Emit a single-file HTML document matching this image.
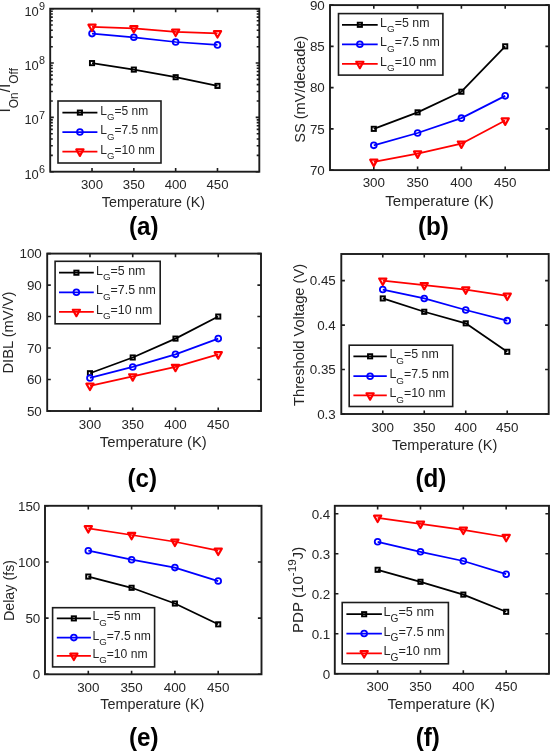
<!DOCTYPE html><html><head><meta charset="utf-8"><style>html,body{margin:0;padding:0;background:#fff;}svg{display:block;will-change:transform;}</style></head><body>
<svg width="550" height="751" viewBox="0 0 550 751" font-family='"Liberation Sans", sans-serif' fill="#262626">
<rect x="50.2" y="8.7" width="209.1" height="163" fill="none" stroke="#1c1c1c" stroke-width="1.9"/>
<path d="M92.02 171.7v-3.6M92.02 8.7v3.6M133.84 171.7v-3.6M133.84 8.7v3.6M175.66 171.7v-3.6M175.66 8.7v3.6M217.48 171.7v-3.6M217.48 8.7v3.6M50.2 171.7h3.6M259.3 171.7h-3.6M50.2 117.37h3.6M259.3 117.37h-3.6M50.2 63.03h3.6M259.3 63.03h-3.6M50.2 8.7h3.6M259.3 8.7h-3.6M50.2 155.34h2.6M259.3 155.34h-2.6M50.2 145.78h2.6M259.3 145.78h-2.6M50.2 138.99h2.6M259.3 138.99h-2.6M50.2 133.72h2.6M259.3 133.72h-2.6M50.2 129.42h2.6M259.3 129.42h-2.6M50.2 125.78h2.6M259.3 125.78h-2.6M50.2 122.63h2.6M259.3 122.63h-2.6M50.2 119.85h2.6M259.3 119.85h-2.6M50.2 101.01h2.6M259.3 101.01h-2.6M50.2 91.44h2.6M259.3 91.44h-2.6M50.2 84.65h2.6M259.3 84.65h-2.6M50.2 79.39h2.6M259.3 79.39h-2.6M50.2 75.09h2.6M259.3 75.09h-2.6M50.2 71.45h2.6M259.3 71.45h-2.6M50.2 68.3h2.6M259.3 68.3h-2.6M50.2 65.52h2.6M259.3 65.52h-2.6M50.2 46.68h2.6M259.3 46.68h-2.6M50.2 37.11h2.6M259.3 37.11h-2.6M50.2 30.32h2.6M259.3 30.32h-2.6M50.2 25.06h2.6M259.3 25.06h-2.6M50.2 20.75h2.6M259.3 20.75h-2.6M50.2 17.12h2.6M259.3 17.12h-2.6M50.2 13.97h2.6M259.3 13.97h-2.6M50.2 11.19h2.6M259.3 11.19h-2.6" stroke="#1c1c1c" stroke-width="1.6" fill="none"/>
<text x="92.02" y="188.7" font-size="13.2" text-anchor="middle" >300</text>
<text x="133.84" y="188.7" font-size="13.2" text-anchor="middle" >350</text>
<text x="175.66" y="188.7" font-size="13.2" text-anchor="middle" >400</text>
<text x="217.48" y="188.7" font-size="13.2" text-anchor="middle" >450</text>
<text transform="translate(153.4,206.5) scale(1,1.04)" font-size="14.3" text-anchor="middle">Temperature (K)</text>
<text x="24.4" y="178.7" font-size="12.9" text-anchor="start" >10</text>
<text x="38.9" y="172.9" font-size="10.8" text-anchor="start" >6</text>
<text x="24.4" y="124.37" font-size="12.9" text-anchor="start" >10</text>
<text x="38.9" y="118.57" font-size="10.8" text-anchor="start" >7</text>
<text x="24.4" y="70.03" font-size="12.9" text-anchor="start" >10</text>
<text x="38.9" y="64.23" font-size="10.8" text-anchor="start" >8</text>
<text x="24.4" y="15.7" font-size="12.9" text-anchor="start" >10</text>
<text x="38.9" y="9.9" font-size="10.8" text-anchor="start" >9</text>
<text transform="translate(10.4,90.3) rotate(-90)" font-size="15.6" text-anchor="middle">I<tspan font-size="11.9" dy="7.6">On</tspan><tspan dy="-7.6">/I</tspan><tspan font-size="11.9" dy="7.6">Off</tspan></text>
<path d="M92.02 63.1L133.84 69.6L175.66 77.2L217.48 85.9" stroke="#000000" stroke-width="1.75" fill="none" stroke-linejoin="round"/>
<rect x="89.92" y="61" width="4.2" height="4.2" fill="none" stroke="#000000" stroke-width="1.9"/>
<rect x="131.74" y="67.5" width="4.2" height="4.2" fill="none" stroke="#000000" stroke-width="1.9"/>
<rect x="173.56" y="75.1" width="4.2" height="4.2" fill="none" stroke="#000000" stroke-width="1.9"/>
<rect x="215.38" y="83.8" width="4.2" height="4.2" fill="none" stroke="#000000" stroke-width="1.9"/>
<path d="M92.02 33.6L133.84 37.3L175.66 42L217.48 44.9" stroke="#0000ff" stroke-width="1.75" fill="none" stroke-linejoin="round"/>
<circle cx="92.02" cy="33.6" r="2.9" fill="none" stroke="#0000ff" stroke-width="1.8"/>
<circle cx="133.84" cy="37.3" r="2.9" fill="none" stroke="#0000ff" stroke-width="1.8"/>
<circle cx="175.66" cy="42" r="2.9" fill="none" stroke="#0000ff" stroke-width="1.8"/>
<circle cx="217.48" cy="44.9" r="2.9" fill="none" stroke="#0000ff" stroke-width="1.8"/>
<path d="M92.02 26.8L133.84 28.3L175.66 31.8L217.48 33.3" stroke="#ff0000" stroke-width="1.75" fill="none" stroke-linejoin="round"/>
<path d="M88.42 24.67H95.62L92.02 31.07Z" fill="none" stroke="#ff0000" stroke-width="2.2" stroke-linejoin="round"/>
<path d="M130.24 26.17H137.44L133.84 32.57Z" fill="none" stroke="#ff0000" stroke-width="2.2" stroke-linejoin="round"/>
<path d="M172.06 29.67H179.26L175.66 36.07Z" fill="none" stroke="#ff0000" stroke-width="2.2" stroke-linejoin="round"/>
<path d="M213.88 31.17H221.08L217.48 37.57Z" fill="none" stroke="#ff0000" stroke-width="2.2" stroke-linejoin="round"/>
<rect x="58" y="101" width="103" height="62" fill="#fff" stroke="#1c1c1c" stroke-width="1.6"/>
<path d="M62.4 112.6H97.4" stroke="#000000" stroke-width="1.75"/>
<rect x="77.8" y="110.5" width="4.2" height="4.2" fill="none" stroke="#000000" stroke-width="1.9"/>
<text x="100.3" y="114.6" font-size="12.0">L<tspan font-size="9.6" dy="5.5">G</tspan><tspan dy="-5.5">=5 nm</tspan></text>
<path d="M62.4 132H97.4" stroke="#0000ff" stroke-width="1.75"/>
<circle cx="79.9" cy="132" r="2.9" fill="none" stroke="#0000ff" stroke-width="1.8"/>
<text x="100.3" y="134" font-size="12.0">L<tspan font-size="9.6" dy="5.5">G</tspan><tspan dy="-5.5">=7.5 nm</tspan></text>
<path d="M62.4 151.6H97.4" stroke="#ff0000" stroke-width="1.75"/>
<path d="M76.3 149.47H83.5L79.9 155.87Z" fill="none" stroke="#ff0000" stroke-width="2.2" stroke-linejoin="round"/>
<text x="100.3" y="153.6" font-size="12.0">L<tspan font-size="9.6" dy="5.5">G</tspan><tspan dy="-5.5">=10 nm</tspan></text>
<text transform="translate(143.75,235) scale(0.95,1)" font-size="25.5" font-weight="bold" text-anchor="middle" fill="#000">(a)</text>
<rect x="330" y="5.1" width="219" height="165" fill="none" stroke="#1c1c1c" stroke-width="1.9"/>
<path d="M373.8 170.1v-3.6M373.8 5.1v3.6M417.6 170.1v-3.6M417.6 5.1v3.6M461.4 170.1v-3.6M461.4 5.1v3.6M505.2 170.1v-3.6M505.2 5.1v3.6M330 170.1h3.6M549 170.1h-3.6M330 128.85h3.6M549 128.85h-3.6M330 87.6h3.6M549 87.6h-3.6M330 46.35h3.6M549 46.35h-3.6M330 5.1h3.6M549 5.1h-3.6" stroke="#1c1c1c" stroke-width="1.6" fill="none"/>
<text x="373.8" y="187.3" font-size="13.4" text-anchor="middle" >300</text>
<text x="417.6" y="187.3" font-size="13.4" text-anchor="middle" >350</text>
<text x="461.4" y="187.3" font-size="13.4" text-anchor="middle" >400</text>
<text x="505.2" y="187.3" font-size="13.4" text-anchor="middle" >450</text>
<text x="439.5" y="205.5" font-size="15.0" text-anchor="middle" >Temperature (K)</text>
<text x="324.8" y="174.86" font-size="13.4" text-anchor="end" >70</text>
<text x="324.8" y="133.61" font-size="13.4" text-anchor="end" >75</text>
<text x="324.8" y="92.36" font-size="13.4" text-anchor="end" >80</text>
<text x="324.8" y="51.11" font-size="13.4" text-anchor="end" >85</text>
<text x="324.8" y="9.86" font-size="13.4" text-anchor="end" >90</text>
<text transform="translate(305,89.3) rotate(-90)" font-size="14.6" text-anchor="middle">SS (mV/decade)</text>
<path d="M373.8 128.85L417.6 112.35L461.4 91.72L505.2 46.35" stroke="#000000" stroke-width="1.75" fill="none" stroke-linejoin="round"/>
<rect x="371.7" y="126.75" width="4.2" height="4.2" fill="none" stroke="#000000" stroke-width="1.9"/>
<rect x="415.5" y="110.25" width="4.2" height="4.2" fill="none" stroke="#000000" stroke-width="1.9"/>
<rect x="459.3" y="89.62" width="4.2" height="4.2" fill="none" stroke="#000000" stroke-width="1.9"/>
<rect x="503.1" y="44.25" width="4.2" height="4.2" fill="none" stroke="#000000" stroke-width="1.9"/>
<path d="M373.8 145.35L417.6 132.97L461.4 118.13L505.2 95.85" stroke="#0000ff" stroke-width="1.75" fill="none" stroke-linejoin="round"/>
<circle cx="373.8" cy="145.35" r="2.9" fill="none" stroke="#0000ff" stroke-width="1.8"/>
<circle cx="417.6" cy="132.97" r="2.9" fill="none" stroke="#0000ff" stroke-width="1.8"/>
<circle cx="461.4" cy="118.13" r="2.9" fill="none" stroke="#0000ff" stroke-width="1.8"/>
<circle cx="505.2" cy="95.85" r="2.9" fill="none" stroke="#0000ff" stroke-width="1.8"/>
<path d="M373.8 161.85L417.6 153.6L461.4 143.7L505.2 120.6" stroke="#ff0000" stroke-width="1.75" fill="none" stroke-linejoin="round"/>
<path d="M370.2 159.72H377.4L373.8 166.12Z" fill="none" stroke="#ff0000" stroke-width="2.2" stroke-linejoin="round"/>
<path d="M414 151.47H421.2L417.6 157.87Z" fill="none" stroke="#ff0000" stroke-width="2.2" stroke-linejoin="round"/>
<path d="M457.8 141.57H465L461.4 147.97Z" fill="none" stroke="#ff0000" stroke-width="2.2" stroke-linejoin="round"/>
<path d="M501.6 118.47H508.8L505.2 124.87Z" fill="none" stroke="#ff0000" stroke-width="2.2" stroke-linejoin="round"/>
<rect x="338.5" y="13.6" width="104.4" height="61.5" fill="#fff" stroke="#1c1c1c" stroke-width="1.6"/>
<path d="M342 24.8H377.7" stroke="#000000" stroke-width="1.75"/>
<rect x="357.75" y="22.7" width="4.2" height="4.2" fill="none" stroke="#000000" stroke-width="1.9"/>
<text x="380.1" y="26.8" font-size="12.4">L<tspan font-size="9.9" dy="5.5">G</tspan><tspan dy="-5.5">=5 nm</tspan></text>
<path d="M342 44.3H377.7" stroke="#0000ff" stroke-width="1.75"/>
<circle cx="359.85" cy="44.3" r="2.9" fill="none" stroke="#0000ff" stroke-width="1.8"/>
<text x="380.1" y="46.3" font-size="12.4">L<tspan font-size="9.9" dy="5.5">G</tspan><tspan dy="-5.5">=7.5 nm</tspan></text>
<path d="M342 63.9H377.7" stroke="#ff0000" stroke-width="1.75"/>
<path d="M356.25 61.77H363.45L359.85 68.17Z" fill="none" stroke="#ff0000" stroke-width="2.2" stroke-linejoin="round"/>
<text x="380.1" y="65.9" font-size="12.4">L<tspan font-size="9.9" dy="5.5">G</tspan><tspan dy="-5.5">=10 nm</tspan></text>
<text transform="translate(433.4,235.3) scale(0.95,1)" font-size="25.5" font-weight="bold" text-anchor="middle" fill="#000">(b)</text>
<rect x="47.2" y="253.6" width="213.8" height="157.4" fill="none" stroke="#1c1c1c" stroke-width="1.9"/>
<path d="M89.96 411v-3.6M89.96 253.6v3.6M132.72 411v-3.6M132.72 253.6v3.6M175.48 411v-3.6M175.48 253.6v3.6M218.24 411v-3.6M218.24 253.6v3.6M47.2 411h3.6M261 411h-3.6M47.2 379.52h3.6M261 379.52h-3.6M47.2 348.04h3.6M261 348.04h-3.6M47.2 316.56h3.6M261 316.56h-3.6M47.2 285.08h3.6M261 285.08h-3.6M47.2 253.6h3.6M261 253.6h-3.6" stroke="#1c1c1c" stroke-width="1.6" fill="none"/>
<text x="89.96" y="428.7" font-size="13.4" text-anchor="middle" >300</text>
<text x="132.72" y="428.7" font-size="13.4" text-anchor="middle" >350</text>
<text x="175.48" y="428.7" font-size="13.4" text-anchor="middle" >400</text>
<text x="218.24" y="428.7" font-size="13.4" text-anchor="middle" >450</text>
<text x="153.25" y="447.3" font-size="14.8" text-anchor="middle" >Temperature (K)</text>
<text x="41.8" y="415.76" font-size="13.4" text-anchor="end" >50</text>
<text x="41.8" y="384.28" font-size="13.4" text-anchor="end" >60</text>
<text x="41.8" y="352.8" font-size="13.4" text-anchor="end" >70</text>
<text x="41.8" y="321.32" font-size="13.4" text-anchor="end" >80</text>
<text x="41.8" y="289.84" font-size="13.4" text-anchor="end" >90</text>
<text x="41.8" y="258.36" font-size="13.4" text-anchor="end" >100</text>
<text transform="translate(13.4,332.6) rotate(-90)" font-size="14.7" text-anchor="middle">DIBL (mV/V)</text>
<path d="M89.96 373.22L132.72 357.48L175.48 338.6L218.24 316.56" stroke="#000000" stroke-width="1.75" fill="none" stroke-linejoin="round"/>
<rect x="87.86" y="371.12" width="4.2" height="4.2" fill="none" stroke="#000000" stroke-width="1.9"/>
<rect x="130.62" y="355.38" width="4.2" height="4.2" fill="none" stroke="#000000" stroke-width="1.9"/>
<rect x="173.38" y="336.5" width="4.2" height="4.2" fill="none" stroke="#000000" stroke-width="1.9"/>
<rect x="216.14" y="314.46" width="4.2" height="4.2" fill="none" stroke="#000000" stroke-width="1.9"/>
<path d="M89.96 377.95L132.72 366.93L175.48 354.34L218.24 338.6" stroke="#0000ff" stroke-width="1.75" fill="none" stroke-linejoin="round"/>
<circle cx="89.96" cy="377.95" r="2.9" fill="none" stroke="#0000ff" stroke-width="1.8"/>
<circle cx="132.72" cy="366.93" r="2.9" fill="none" stroke="#0000ff" stroke-width="1.8"/>
<circle cx="175.48" cy="354.34" r="2.9" fill="none" stroke="#0000ff" stroke-width="1.8"/>
<circle cx="218.24" cy="338.6" r="2.9" fill="none" stroke="#0000ff" stroke-width="1.8"/>
<path d="M89.96 385.82L132.72 376.37L175.48 366.93L218.24 354.34" stroke="#ff0000" stroke-width="1.75" fill="none" stroke-linejoin="round"/>
<path d="M86.36 383.68H93.56L89.96 390.08Z" fill="none" stroke="#ff0000" stroke-width="2.2" stroke-linejoin="round"/>
<path d="M129.12 374.24H136.32L132.72 380.64Z" fill="none" stroke="#ff0000" stroke-width="2.2" stroke-linejoin="round"/>
<path d="M171.88 364.79H179.08L175.48 371.19Z" fill="none" stroke="#ff0000" stroke-width="2.2" stroke-linejoin="round"/>
<path d="M214.64 352.2H221.84L218.24 358.6Z" fill="none" stroke="#ff0000" stroke-width="2.2" stroke-linejoin="round"/>
<rect x="55.1" y="261.3" width="105.1" height="62.5" fill="#fff" stroke="#1c1c1c" stroke-width="1.6"/>
<path d="M59 272.7H93.8" stroke="#000000" stroke-width="1.75"/>
<rect x="74.3" y="270.6" width="4.2" height="4.2" fill="none" stroke="#000000" stroke-width="1.9"/>
<text x="96" y="274.7" font-size="12.4">L<tspan font-size="9.9" dy="5.5">G</tspan><tspan dy="-5.5">=5 nm</tspan></text>
<path d="M59 292.3H93.8" stroke="#0000ff" stroke-width="1.75"/>
<circle cx="76.4" cy="292.3" r="2.9" fill="none" stroke="#0000ff" stroke-width="1.8"/>
<text x="96" y="294.3" font-size="12.4">L<tspan font-size="9.9" dy="5.5">G</tspan><tspan dy="-5.5">=7.5 nm</tspan></text>
<path d="M59 311.9H93.8" stroke="#ff0000" stroke-width="1.75"/>
<path d="M72.8 309.77H80L76.4 316.17Z" fill="none" stroke="#ff0000" stroke-width="2.2" stroke-linejoin="round"/>
<text x="96" y="313.9" font-size="12.4">L<tspan font-size="9.9" dy="5.5">G</tspan><tspan dy="-5.5">=10 nm</tspan></text>
<text transform="translate(142.25,486.5) scale(0.95,1)" font-size="25.5" font-weight="bold" text-anchor="middle" fill="#000">(c)</text>
<rect x="341.3" y="254" width="207.4" height="160" fill="none" stroke="#1c1c1c" stroke-width="1.9"/>
<path d="M382.78 414v-3.6M382.78 254v3.6M424.26 414v-3.6M424.26 254v3.6M465.74 414v-3.6M465.74 254v3.6M507.22 414v-3.6M507.22 254v3.6M341.3 414h3.6M548.7 414h-3.6M341.3 369.56h3.6M548.7 369.56h-3.6M341.3 325.11h3.6M548.7 325.11h-3.6M341.3 280.67h3.6M548.7 280.67h-3.6" stroke="#1c1c1c" stroke-width="1.6" fill="none"/>
<text x="382.78" y="431.5" font-size="13.4" text-anchor="middle" >300</text>
<text x="424.26" y="431.5" font-size="13.4" text-anchor="middle" >350</text>
<text x="465.74" y="431.5" font-size="13.4" text-anchor="middle" >400</text>
<text x="507.22" y="431.5" font-size="13.4" text-anchor="middle" >450</text>
<text x="444.6" y="449.6" font-size="14.6" text-anchor="middle" >Temperature (K)</text>
<text x="335.8" y="418.76" font-size="13.4" text-anchor="end" >0.3</text>
<text x="335.8" y="374.31" font-size="13.4" text-anchor="end" >0.35</text>
<text x="335.8" y="329.87" font-size="13.4" text-anchor="end" >0.4</text>
<text x="335.8" y="285.42" font-size="13.4" text-anchor="end" >0.45</text>
<text transform="translate(303.6,334.9) rotate(-90)" font-size="14.7" text-anchor="middle">Threshold Voltage (V)</text>
<path d="M382.78 298.44L424.26 311.78L465.74 323.33L507.22 351.78" stroke="#000000" stroke-width="1.75" fill="none" stroke-linejoin="round"/>
<rect x="380.68" y="296.34" width="4.2" height="4.2" fill="none" stroke="#000000" stroke-width="1.9"/>
<rect x="422.16" y="309.68" width="4.2" height="4.2" fill="none" stroke="#000000" stroke-width="1.9"/>
<rect x="463.64" y="321.23" width="4.2" height="4.2" fill="none" stroke="#000000" stroke-width="1.9"/>
<rect x="505.12" y="349.68" width="4.2" height="4.2" fill="none" stroke="#000000" stroke-width="1.9"/>
<path d="M382.78 289.56L424.26 298.44L465.74 310L507.22 320.67" stroke="#0000ff" stroke-width="1.75" fill="none" stroke-linejoin="round"/>
<circle cx="382.78" cy="289.56" r="2.9" fill="none" stroke="#0000ff" stroke-width="1.8"/>
<circle cx="424.26" cy="298.44" r="2.9" fill="none" stroke="#0000ff" stroke-width="1.8"/>
<circle cx="465.74" cy="310" r="2.9" fill="none" stroke="#0000ff" stroke-width="1.8"/>
<circle cx="507.22" cy="320.67" r="2.9" fill="none" stroke="#0000ff" stroke-width="1.8"/>
<path d="M382.78 280.67L424.26 285.11L465.74 289.56L507.22 295.78" stroke="#ff0000" stroke-width="1.75" fill="none" stroke-linejoin="round"/>
<path d="M379.18 278.53H386.38L382.78 284.93Z" fill="none" stroke="#ff0000" stroke-width="2.2" stroke-linejoin="round"/>
<path d="M420.66 282.98H427.86L424.26 289.38Z" fill="none" stroke="#ff0000" stroke-width="2.2" stroke-linejoin="round"/>
<path d="M462.14 287.42H469.34L465.74 293.82Z" fill="none" stroke="#ff0000" stroke-width="2.2" stroke-linejoin="round"/>
<path d="M503.62 293.64H510.82L507.22 300.04Z" fill="none" stroke="#ff0000" stroke-width="2.2" stroke-linejoin="round"/>
<rect x="349.2" y="345.2" width="103.5" height="61.3" fill="#fff" stroke="#1c1c1c" stroke-width="1.6"/>
<path d="M353.4 356.3H386.8" stroke="#000000" stroke-width="1.75"/>
<rect x="368" y="354.2" width="4.2" height="4.2" fill="none" stroke="#000000" stroke-width="1.9"/>
<text x="389.4" y="358.3" font-size="12.4">L<tspan font-size="9.9" dy="5.5">G</tspan><tspan dy="-5.5">=5 nm</tspan></text>
<path d="M353.4 376.2H386.8" stroke="#0000ff" stroke-width="1.75"/>
<circle cx="370.1" cy="376.2" r="2.9" fill="none" stroke="#0000ff" stroke-width="1.8"/>
<text x="389.4" y="378.2" font-size="12.4">L<tspan font-size="9.9" dy="5.5">G</tspan><tspan dy="-5.5">=7.5 nm</tspan></text>
<path d="M353.4 395.4H386.8" stroke="#ff0000" stroke-width="1.75"/>
<path d="M366.5 393.27H373.7L370.1 399.67Z" fill="none" stroke="#ff0000" stroke-width="2.2" stroke-linejoin="round"/>
<text x="389.4" y="397.4" font-size="12.4">L<tspan font-size="9.9" dy="5.5">G</tspan><tspan dy="-5.5">=10 nm</tspan></text>
<text transform="translate(430.85,486.7) scale(0.95,1)" font-size="25.5" font-weight="bold" text-anchor="middle" fill="#000">(d)</text>
<rect x="45" y="505.8" width="216.5" height="168.5" fill="none" stroke="#1c1c1c" stroke-width="1.9"/>
<path d="M88.3 674.3v-3.6M88.3 505.8v3.6M131.6 674.3v-3.6M131.6 505.8v3.6M174.9 674.3v-3.6M174.9 505.8v3.6M218.2 674.3v-3.6M218.2 505.8v3.6M45 674.3h3.6M261.5 674.3h-3.6M45 618.13h3.6M261.5 618.13h-3.6M45 561.97h3.6M261.5 561.97h-3.6M45 505.8h3.6M261.5 505.8h-3.6" stroke="#1c1c1c" stroke-width="1.6" fill="none"/>
<text x="88.3" y="691.9" font-size="13.4" text-anchor="middle" >300</text>
<text x="131.6" y="691.9" font-size="13.4" text-anchor="middle" >350</text>
<text x="174.9" y="691.9" font-size="13.4" text-anchor="middle" >400</text>
<text x="218.2" y="691.9" font-size="13.4" text-anchor="middle" >450</text>
<text x="152.3" y="709.1" font-size="14.4" text-anchor="middle" >Temperature (K)</text>
<text x="40.3" y="679.06" font-size="13.4" text-anchor="end" >0</text>
<text x="40.3" y="622.89" font-size="13.4" text-anchor="end" >50</text>
<text x="40.3" y="566.72" font-size="13.4" text-anchor="end" >100</text>
<text x="40.3" y="510.56" font-size="13.4" text-anchor="end" >150</text>
<text transform="translate(13.8,590.5) rotate(-90)" font-size="14.3" text-anchor="middle">Delay (fs)</text>
<path d="M88.3 576.57L131.6 587.8L174.9 603.53L218.2 624.31" stroke="#000000" stroke-width="1.75" fill="none" stroke-linejoin="round"/>
<rect x="86.2" y="574.47" width="4.2" height="4.2" fill="none" stroke="#000000" stroke-width="1.9"/>
<rect x="129.5" y="585.7" width="4.2" height="4.2" fill="none" stroke="#000000" stroke-width="1.9"/>
<rect x="172.8" y="601.43" width="4.2" height="4.2" fill="none" stroke="#000000" stroke-width="1.9"/>
<rect x="216.1" y="622.21" width="4.2" height="4.2" fill="none" stroke="#000000" stroke-width="1.9"/>
<path d="M88.3 550.73L131.6 559.72L174.9 567.58L218.2 581.06" stroke="#0000ff" stroke-width="1.75" fill="none" stroke-linejoin="round"/>
<circle cx="88.3" cy="550.73" r="2.9" fill="none" stroke="#0000ff" stroke-width="1.8"/>
<circle cx="131.6" cy="559.72" r="2.9" fill="none" stroke="#0000ff" stroke-width="1.8"/>
<circle cx="174.9" cy="567.58" r="2.9" fill="none" stroke="#0000ff" stroke-width="1.8"/>
<circle cx="218.2" cy="581.06" r="2.9" fill="none" stroke="#0000ff" stroke-width="1.8"/>
<path d="M88.3 528.27L131.6 535.01L174.9 541.75L218.2 550.73" stroke="#ff0000" stroke-width="1.75" fill="none" stroke-linejoin="round"/>
<path d="M84.7 526.13H91.9L88.3 532.53Z" fill="none" stroke="#ff0000" stroke-width="2.2" stroke-linejoin="round"/>
<path d="M128 532.87H135.2L131.6 539.27Z" fill="none" stroke="#ff0000" stroke-width="2.2" stroke-linejoin="round"/>
<path d="M171.3 539.61H178.5L174.9 546.01Z" fill="none" stroke="#ff0000" stroke-width="2.2" stroke-linejoin="round"/>
<path d="M214.6 548.6H221.8L218.2 555Z" fill="none" stroke="#ff0000" stroke-width="2.2" stroke-linejoin="round"/>
<rect x="52.6" y="607.7" width="102" height="59.2" fill="#fff" stroke="#1c1c1c" stroke-width="1.6"/>
<path d="M56.8 618.4H90.9" stroke="#000000" stroke-width="1.75"/>
<rect x="71.75" y="616.3" width="4.2" height="4.2" fill="none" stroke="#000000" stroke-width="1.9"/>
<text x="92.4" y="620.4" font-size="12.15">L<tspan font-size="9.7" dy="5.5">G</tspan><tspan dy="-5.5">=5 nm</tspan></text>
<path d="M56.8 637.6H90.9" stroke="#0000ff" stroke-width="1.75"/>
<circle cx="73.85" cy="637.6" r="2.9" fill="none" stroke="#0000ff" stroke-width="1.8"/>
<text x="92.4" y="639.6" font-size="12.15">L<tspan font-size="9.7" dy="5.5">G</tspan><tspan dy="-5.5">=7.5 nm</tspan></text>
<path d="M56.8 655.8H90.9" stroke="#ff0000" stroke-width="1.75"/>
<path d="M70.25 653.67H77.45L73.85 660.07Z" fill="none" stroke="#ff0000" stroke-width="2.2" stroke-linejoin="round"/>
<text x="92.4" y="657.8" font-size="12.15">L<tspan font-size="9.7" dy="5.5">G</tspan><tspan dy="-5.5">=10 nm</tspan></text>
<text transform="translate(143.75,746) scale(0.95,1)" font-size="25.5" font-weight="bold" text-anchor="middle" fill="#000">(e)</text>
<rect x="334.8" y="505.8" width="214.2" height="168" fill="none" stroke="#1c1c1c" stroke-width="1.9"/>
<path d="M377.64 673.8v-3.6M377.64 505.8v3.6M420.48 673.8v-3.6M420.48 505.8v3.6M463.32 673.8v-3.6M463.32 505.8v3.6M506.16 673.8v-3.6M506.16 505.8v3.6M334.8 673.8h3.6M549 673.8h-3.6M334.8 633.8h3.6M549 633.8h-3.6M334.8 593.8h3.6M549 593.8h-3.6M334.8 553.8h3.6M549 553.8h-3.6M334.8 513.8h3.6M549 513.8h-3.6" stroke="#1c1c1c" stroke-width="1.6" fill="none"/>
<text x="377.64" y="691.4" font-size="13.4" text-anchor="middle" >300</text>
<text x="420.48" y="691.4" font-size="13.4" text-anchor="middle" >350</text>
<text x="463.32" y="691.4" font-size="13.4" text-anchor="middle" >400</text>
<text x="506.16" y="691.4" font-size="13.4" text-anchor="middle" >450</text>
<text x="441.2" y="709.1" font-size="14.9" text-anchor="middle" >Temperature (K)</text>
<text x="330.3" y="678.56" font-size="13.4" text-anchor="end" >0</text>
<text x="330.3" y="638.56" font-size="13.4" text-anchor="end" >0.1</text>
<text x="330.3" y="598.56" font-size="13.4" text-anchor="end" >0.2</text>
<text x="330.3" y="558.56" font-size="13.4" text-anchor="end" >0.3</text>
<text x="330.3" y="518.56" font-size="13.4" text-anchor="end" >0.4</text>
<text transform="translate(302.8,589.9) rotate(-90)" font-size="15.1" text-anchor="middle">PDP (10<tspan font-size="11.6" dy="-6.8">-19</tspan><tspan dy="6.8">J)</tspan></text>
<path d="M377.64 569.8L420.48 581.8L463.32 594.6L506.16 611.8" stroke="#000000" stroke-width="1.75" fill="none" stroke-linejoin="round"/>
<rect x="375.54" y="567.7" width="4.2" height="4.2" fill="none" stroke="#000000" stroke-width="1.9"/>
<rect x="418.38" y="579.7" width="4.2" height="4.2" fill="none" stroke="#000000" stroke-width="1.9"/>
<rect x="461.22" y="592.5" width="4.2" height="4.2" fill="none" stroke="#000000" stroke-width="1.9"/>
<rect x="504.06" y="609.7" width="4.2" height="4.2" fill="none" stroke="#000000" stroke-width="1.9"/>
<path d="M377.64 541.8L420.48 551.8L463.32 561L506.16 574.2" stroke="#0000ff" stroke-width="1.75" fill="none" stroke-linejoin="round"/>
<circle cx="377.64" cy="541.8" r="2.9" fill="none" stroke="#0000ff" stroke-width="1.8"/>
<circle cx="420.48" cy="551.8" r="2.9" fill="none" stroke="#0000ff" stroke-width="1.8"/>
<circle cx="463.32" cy="561" r="2.9" fill="none" stroke="#0000ff" stroke-width="1.8"/>
<circle cx="506.16" cy="574.2" r="2.9" fill="none" stroke="#0000ff" stroke-width="1.8"/>
<path d="M377.64 517.8L420.48 523.8L463.32 529.8L506.16 537" stroke="#ff0000" stroke-width="1.75" fill="none" stroke-linejoin="round"/>
<path d="M374.04 515.67H381.24L377.64 522.07Z" fill="none" stroke="#ff0000" stroke-width="2.2" stroke-linejoin="round"/>
<path d="M416.88 521.67H424.08L420.48 528.07Z" fill="none" stroke="#ff0000" stroke-width="2.2" stroke-linejoin="round"/>
<path d="M459.72 527.67H466.92L463.32 534.07Z" fill="none" stroke="#ff0000" stroke-width="2.2" stroke-linejoin="round"/>
<path d="M502.56 534.87H509.76L506.16 541.27Z" fill="none" stroke="#ff0000" stroke-width="2.2" stroke-linejoin="round"/>
<rect x="342.2" y="602.5" width="106.2" height="61.3" fill="#fff" stroke="#1c1c1c" stroke-width="1.6"/>
<path d="M346.4 614.2H381.9" stroke="#000000" stroke-width="1.75"/>
<rect x="362.05" y="612.1" width="4.2" height="4.2" fill="none" stroke="#000000" stroke-width="1.9"/>
<text x="383.4" y="616.2" font-size="12.7">L<tspan font-size="10.2" dy="5.5">G</tspan><tspan dy="-5.5">=5 nm</tspan></text>
<path d="M346.4 633.5H381.9" stroke="#0000ff" stroke-width="1.75"/>
<circle cx="364.15" cy="633.5" r="2.9" fill="none" stroke="#0000ff" stroke-width="1.8"/>
<text x="383.4" y="635.5" font-size="12.7">L<tspan font-size="10.2" dy="5.5">G</tspan><tspan dy="-5.5">=7.5 nm</tspan></text>
<path d="M346.4 653.3H381.9" stroke="#ff0000" stroke-width="1.75"/>
<path d="M360.55 651.17H367.75L364.15 657.57Z" fill="none" stroke="#ff0000" stroke-width="2.2" stroke-linejoin="round"/>
<text x="383.4" y="655.3" font-size="12.7">L<tspan font-size="10.2" dy="5.5">G</tspan><tspan dy="-5.5">=10 nm</tspan></text>
<text transform="translate(427.75,746) scale(0.95,1)" font-size="25.5" font-weight="bold" text-anchor="middle" fill="#000">(f)</text>
</svg></body></html>
